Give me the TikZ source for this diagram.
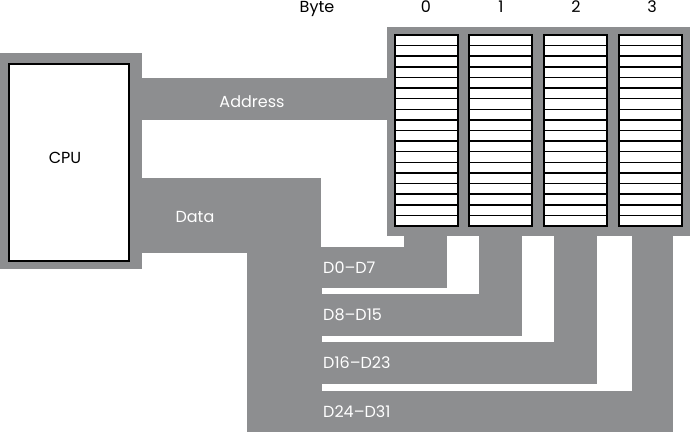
\documentclass[tikz,border=0pt]{standalone}
\usepackage{fontspec}
\setmainfont{Poppins}
\usepackage{tikz}
\usetikzlibrary{positioning}
\definecolor{busgray}{RGB}{141,142,144}
\tikzstyle{bus} = [fill=busgray, draw=none]
\tikzstyle{txt} = [inner sep=0pt, anchor=base, font=\fontsize{16}{18}\selectfont]
\tikzstyle{buslabel} = [txt, text=white]
\tikzstyle{cpubox} = [rectangle, draw=black, line width=1.6pt, fill=white, minimum width=120pt, minimum height=197pt, inner sep=0pt]
\tikzstyle{cell} = [draw=black, line width=1.5pt, fill=white]

\begin{document}
\begin{tikzpicture}[x=1pt, y=-1pt]
  \useasboundingbox (0,0) rectangle (690,433);

  % CPU
  \fill[bus] (0,53) rectangle (142,269);
  \node[cpubox] (cpu) at (69,162.5) {};
  \node[txt] (cputxt) at (65,163) {CPU};

  % Address bus
  \fill[bus] (142,78) rectangle (388,120);
  \node[buslabel] (addr) at (252,108) {Address};

  % Memory
  \fill[bus] (387,27) rectangle (690,236);
  \foreach \x in {395,469,544,619} {
    \foreach \r in {0,...,17} {
      \draw[cell] (\x,35+\r*10.61) rectangle (\x+63,35+\r*10.61+10.61);
    }
  }

  % Byte labels
  \node[txt] (byte) at (317,13) {Byte};
  \node[txt] (b0) at (426,13) {0};
  \node[txt] (b1) at (501,13) {1};
  \node[txt] (b2) at (576,13) {2};
  \node[txt] (b3) at (652,13) {3};

  % Data bus
  \fill[bus] (142,178) rectangle (321,253);
  \fill[bus] (247,247) rectangle (322,432);
  \node[buslabel] (data) at (195,222) {Data};

  % Byte lanes
  \foreach \t/\b/\l/\r in {247/288/404/447, 294/336/479/522, 342/384/554/597, 391/432/632/673} {
    \fill[bus] (247,\t) rectangle (\r,\b);
    \fill[bus] (\l,235) rectangle (\r,\b);
  }
  \node[buslabel, anchor=base west] (d0) at (323,273) {D0–D7};
  \node[buslabel, anchor=base west] (d1) at (323,320) {D8–D15};
  \node[buslabel, anchor=base west] (d2) at (323,368) {D16–D23};
  \node[buslabel, anchor=base west] (d3) at (323,417) {D24–D31};
\end{tikzpicture}
\end{document}
